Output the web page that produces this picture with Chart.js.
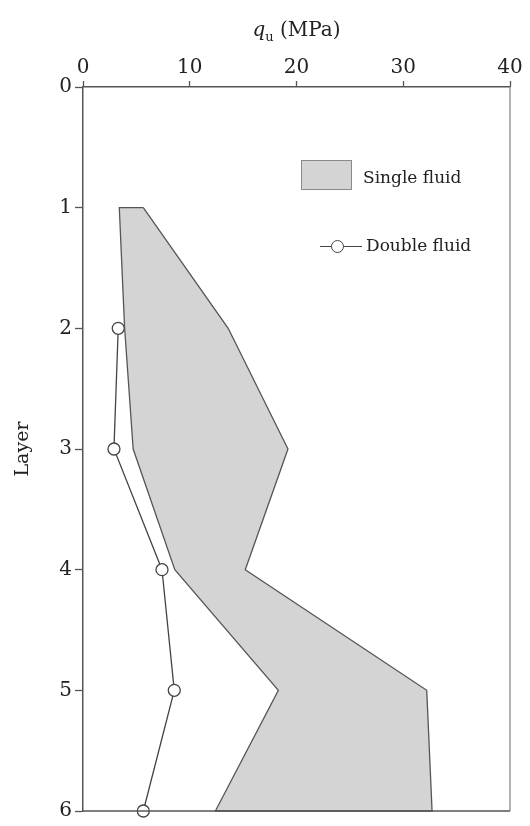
<!DOCTYPE html>
<html>
<head>
<meta charset="utf-8">
<script src="https://cdn.jsdelivr.net/npm/chart.js@4"></script>
<style>
  html, body { margin: 0; padding: 0; background: #fff; }
  #wrap { position: relative; width: 530px; height: 826px; }
  canvas { position: absolute; left: 0; top: 0; }
  .lbl { position: absolute; font-family: "DejaVu Serif", serif; color: #222; white-space: nowrap; }
</style>
</head>
<body>
<div id="wrap">
  <canvas id="c" width="530" height="826"></canvas>
  <div class="lbl" id="xtitle" style="left:0; width:593px; text-align:center; top:17px; font-size:20px;"><i>q</i><sub style="font-size:13px;">u</sub> (MPa)</div>
  <div id="legBox" style="position:absolute; left:301px; top:160px; width:49px; height:28px; background:#d4d4d4; border:1.5px solid #8a8a8a;"></div>
  <div class="lbl" style="left:363px; top:167px; font-size:17px;">Single fluid</div>
  <div style="position:absolute; left:320px; top:246px; width:42px; height:1.3px; background:#444;"></div>
  <div style="position:absolute; left:331px; top:240px; width:11px; height:11px; border-radius:50%; background:#fff; border:1.3px solid #444;"></div>
  <div class="lbl" style="left:366px; top:235px; font-size:17px;">Double fluid</div>
</div>
<script>
// ---- data ----
const layers = [1, 2, 3, 4, 5, 6];
const singleMax = [5.65, 13.6, 19.2, 15.2, 32.2, 32.7];   // right boundary of shaded band
const singleMin = [3.4, 3.9, 4.7, 8.6, 18.3, 12.4];      // left boundary of shaded band
const doubleLayers = [2, 3, 4, 5, 6];
const doubleValues = [3.3, 2.9, 7.4, 8.55, 5.65];
const xTicks = [0, 10, 20, 30, 40];
const yTicks = [0, 1, 2, 3, 4, 5, 6];

// polygon for the single-fluid band: down the right edge, back up the left edge
const bandPoints = [];
layers.forEach((l, i) => bandPoints.push({ x: singleMax[i], y: l }));
for (let i = layers.length - 1; i >= 0; i--) bandPoints.push({ x: singleMin[i], y: layers[i] });
bandPoints.push({ x: singleMax[0], y: layers[0] });

const doublePoints = doubleLayers.map((l, i) => ({ x: doubleValues[i], y: l }));

const frame = {
  id: 'frame',
  afterDatasetsDraw(chart) {
    const { ctx, chartArea: a } = chart;
    ctx.save();
    ctx.lineWidth = 1.5;
    ctx.strokeStyle = '#9a9a9a';
    ctx.beginPath();
    ctx.moveTo(a.right, a.top);
    ctx.lineTo(a.right, a.bottom);
    ctx.stroke();
    ctx.strokeStyle = '#555';
    ctx.beginPath();
    ctx.moveTo(a.left, a.bottom);
    ctx.lineTo(a.right, a.bottom);
    ctx.stroke();
    ctx.restore();
  }
};

const FONT = "'DejaVu Serif', serif";

new Chart(document.getElementById('c'), {
  type: 'scatter',
  data: {
    datasets: [
      {
        label: 'Single fluid',
        data: bandPoints,
        showLine: true,
        fill: 'shape',
        backgroundColor: '#d4d4d4',
        borderColor: '#555',
        borderWidth: 1.3,
        pointRadius: 0,
        tension: 0,
        clip: false
      },
      {
        label: 'Double fluid',
        data: doublePoints,
        showLine: true,
        fill: false,
        borderColor: '#444',
        borderWidth: 1.3,
        pointRadius: 6,
        pointBackgroundColor: '#fff',
        pointBorderColor: '#444',
        pointBorderWidth: 1.3,
        tension: 0,
        clip: false
      }
    ]
  },
  options: {
    responsive: false,
    animation: false,
    layout: { padding: { left: 0, right: 20, top: 0, bottom: 12 } },
    plugins: { legend: { display: false }, tooltip: { enabled: false } },
    scales: {
      x: {
        type: 'linear',
        position: 'top',
        min: 0, max: 40,
        afterBuildTicks: s => { s.ticks = xTicks.map(v => ({ value: v })); },
        afterFit: s => { s.height = 87; },
        ticks: { font: { family: FONT, size: 20 }, color: '#222', padding: 1 },
        grid: { display: true, drawOnChartArea: false, drawTicks: true, tickLength: 6, tickColor: '#555', tickWidth: 1.3 },
        border: { display: true, color: '#555', width: 1.5 },
        title: { display: false }
      },
      y: {
        type: 'linear',
        reverse: true,
        min: 0, max: 6,
        afterBuildTicks: s => { s.ticks = yTicks.map(v => ({ value: v })); },
        afterFit: s => { s.width = 83; },
        ticks: { font: { family: FONT, size: 20 }, color: '#222', padding: 3 },
        grid: { display: true, drawOnChartArea: false, drawTicks: true, tickLength: 8, tickColor: '#555', tickWidth: 1.3 },
        border: { display: true, color: '#555', width: 1.5 },
        title: { display: true, text: 'Layer', font: { family: FONT, size: 19 }, color: '#222', padding: { top: 12, bottom: 0 } }
      }
    }
  },
  plugins: [frame]
});
</script>
</body>
</html>
